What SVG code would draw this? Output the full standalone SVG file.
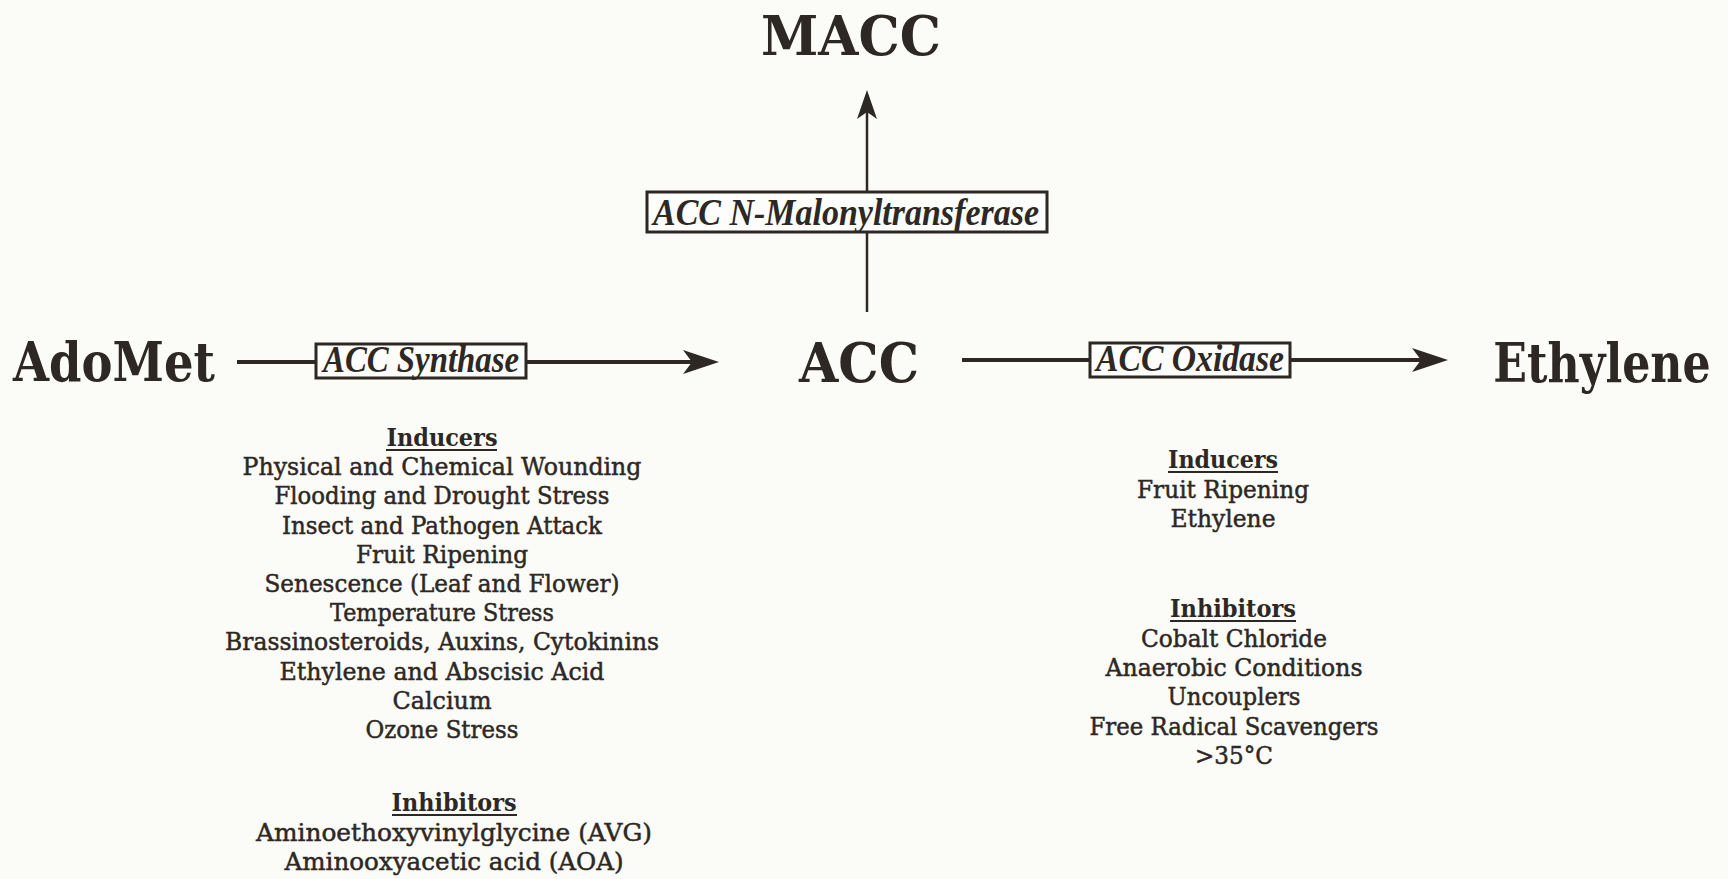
<svg xmlns="http://www.w3.org/2000/svg" width="1728" height="879" viewBox="0 0 1728 879">
<style>
  .big { font-family: "DejaVu Serif", "Liberation Serif", serif; font-weight: bold; font-size: 54px; fill: #2d2824; text-anchor: middle; }
  .enz { font-family: "Liberation Serif", serif; font-weight: bold; font-style: italic; font-size: 38px; fill: #2d2824; text-anchor: middle; }
  .body { font-family: "DejaVu Serif", "Liberation Serif", serif; font-size: 25px; fill: #2d2824; stroke: #2d2824; stroke-width: 0.5; text-anchor: middle; }
  .head { font-family: "DejaVu Serif", "Liberation Serif", serif; font-weight: bold; font-size: 25px; fill: #2d2824; text-anchor: middle; }
  .ul { stroke: #2d2824; stroke-width: 2.2; }
  .box { fill: #fdfdfb; stroke: #2d2824; stroke-width: 3; }
  .conn { stroke: #2d2824; fill: none; }
</style>
<defs>
  <marker id="ah" markerUnits="userSpaceOnUse" markerWidth="40" markerHeight="28" refX="24" refY="14" orient="auto">
    <path d="M2,2 L38,14 L2,26 L11,14 Z" fill="#2d2824"/>
  </marker>
  <marker id="ahs" markerUnits="userSpaceOnUse" markerWidth="32" markerHeight="24" refX="20" refY="11" orient="auto">
    <path d="M1,1 L30,11 L1,21 L8,11 Z" fill="#2d2824"/>
  </marker>
</defs>
<rect x="0" y="0" width="1728" height="879" fill="#fbfbf8"/>

<g id="connectors">
  <line class="conn" x1="237" y1="362" x2="705" y2="362" stroke-width="4" marker-end="url(#ah)"/>
  <line class="conn" x1="962" y1="360" x2="1434" y2="360" stroke-width="4" marker-end="url(#ah)"/>
  <line class="conn" x1="867" y1="312" x2="867" y2="100" stroke-width="2.5" marker-end="url(#ahs)"/>
</g>

<g id="enzyme-synthase">
  <rect class="box" x="316" y="344" width="210" height="34"/>
  <text class="enz" x="421" y="372" textLength="196" lengthAdjust="spacingAndGlyphs">ACC Synthase</text>
</g>
<g id="enzyme-oxidase">
  <rect class="box" x="1090" y="343" width="200" height="34"/>
  <text class="enz" x="1190" y="371" textLength="188" lengthAdjust="spacingAndGlyphs">ACC Oxidase</text>
</g>
<g id="enzyme-malonyl">
  <rect class="box" x="647" y="192" width="400" height="40"/>
  <text class="enz" x="846" y="225" textLength="386" lengthAdjust="spacingAndGlyphs">ACC N-Malonyltransferase</text>
</g>

<g id="node-adomet">
  <text class="big" x="114" y="381" textLength="202" lengthAdjust="spacingAndGlyphs">AdoMet</text>
</g>
<g id="node-acc">
  <text class="big" x="859" y="382" textLength="120" lengthAdjust="spacingAndGlyphs">ACC</text>
</g>
<g id="node-ethylene">
  <text class="big" transform="translate(1602,382) scale(0.82,1)" x="0" y="0">Ethylene</text>
</g>
<g id="node-macc">
  <text class="big" x="851" y="55" textLength="180" lengthAdjust="spacingAndGlyphs">MACC</text>
</g>

<g id="synthase-inducers">
  <text class="head" x="442" y="446" textLength="111" lengthAdjust="spacingAndGlyphs">Inducers</text>
  <line class="ul" x1="386" y1="450" x2="497" y2="450"/>
  <text class="body" x="442" y="475" textLength="399" lengthAdjust="spacingAndGlyphs">Physical and Chemical Wounding</text>
  <text class="body" x="442" y="504" textLength="335" lengthAdjust="spacingAndGlyphs">Flooding and Drought Stress</text>
  <text class="body" x="442" y="534" textLength="320" lengthAdjust="spacingAndGlyphs">Insect and Pathogen Attack</text>
  <text class="body" x="442" y="563" textLength="172" lengthAdjust="spacingAndGlyphs">Fruit Ripening</text>
  <text class="body" x="442" y="592" textLength="355" lengthAdjust="spacingAndGlyphs">Senescence (Leaf and Flower)</text>
  <text class="body" x="442" y="621" textLength="224" lengthAdjust="spacingAndGlyphs">Temperature Stress</text>
  <text class="body" x="442" y="650" textLength="434" lengthAdjust="spacingAndGlyphs">Brassinosteroids, Auxins, Cytokinins</text>
  <text class="body" x="442" y="680" textLength="325" lengthAdjust="spacingAndGlyphs">Ethylene and Abscisic Acid</text>
  <text class="body" x="442" y="709" textLength="99" lengthAdjust="spacingAndGlyphs">Calcium</text>
  <text class="body" x="442" y="738" textLength="153" lengthAdjust="spacingAndGlyphs">Ozone Stress</text>
</g>
<g id="synthase-inhibitors">
  <text class="head" x="454" y="811" textLength="125" lengthAdjust="spacingAndGlyphs">Inhibitors</text>
  <line class="ul" x1="392" y1="815" x2="517" y2="815"/>
  <text class="body" x="454" y="841" textLength="396" lengthAdjust="spacingAndGlyphs">Aminoethoxyvinylglycine (AVG)</text>
  <text class="body" x="454" y="870" textLength="339" lengthAdjust="spacingAndGlyphs">Aminooxyacetic acid (AOA)</text>
</g>
<g id="oxidase-inducers">
  <text class="head" x="1223" y="468" textLength="110" lengthAdjust="spacingAndGlyphs">Inducers</text>
  <line class="ul" x1="1168" y1="472" x2="1278" y2="472"/>
  <text class="body" x="1223" y="498" textLength="172" lengthAdjust="spacingAndGlyphs">Fruit Ripening</text>
  <text class="body" x="1223" y="527" textLength="105" lengthAdjust="spacingAndGlyphs">Ethylene</text>
</g>
<g id="oxidase-inhibitors">
  <text class="head" x="1233" y="617" textLength="126" lengthAdjust="spacingAndGlyphs">Inhibitors</text>
  <line class="ul" x1="1170" y1="621" x2="1296" y2="621"/>
  <text class="body" x="1234" y="647" textLength="186" lengthAdjust="spacingAndGlyphs">Cobalt Chloride</text>
  <text class="body" x="1234" y="676" textLength="257" lengthAdjust="spacingAndGlyphs">Anaerobic Conditions</text>
  <text class="body" x="1234" y="705" textLength="133" lengthAdjust="spacingAndGlyphs">Uncouplers</text>
  <text class="body" x="1234" y="735" textLength="289" lengthAdjust="spacingAndGlyphs">Free Radical Scavengers</text>
  <text class="body" x="1234" y="764" textLength="78" lengthAdjust="spacingAndGlyphs">&gt;35°C</text>
</g>
</svg>
